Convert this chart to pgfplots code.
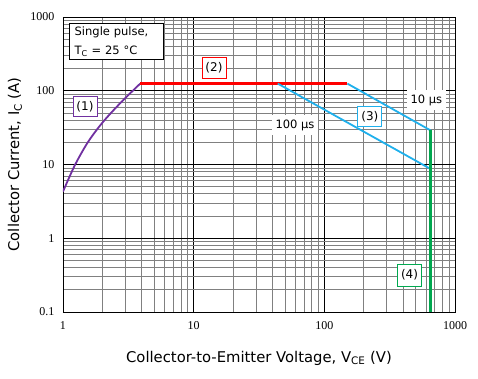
\documentclass[border=0pt]{standalone}
\usepackage{fontspec}
\setmainfont{DejaVu Sans}
\newfontfamily\tms{Liberation Serif}
\usepackage{pgfplots}
\pgfplotsset{compat=1.18}
\definecolor{cpurple}{HTML}{7030A0}
\definecolor{cred}{HTML}{FF0000}
\definecolor{ccyan}{HTML}{1FB0EC}
\definecolor{cgreen}{HTML}{00A84F}
\definecolor{cgrid}{HTML}{808080}
\begin{document}
\begin{tikzpicture}
\useasboundingbox (-63pt,-66pt) rectangle (415pt,312pt);
\begin{axis}[at={(0,0)}, anchor=south west, scale only axis,
  width=392pt, height=295pt,
  xmode=log, ymode=log, xmin=1, xmax=1000, ymin=0.1, ymax=1000,
  xtick={1,10,100,1000}, ytick={0.1,1,10,100,1000},
  xticklabels={1,10,100,1000}, yticklabels={0.1,1,10,100,1000},
  minor xtick={2,3,4,5,6,7,8,9,20,30,40,50,60,70,80,90,200,300,400,500,600,700,800,900},
  minor ytick={0.2,0.3,0.4,0.5,0.6,0.7,0.8,0.9,2,3,4,5,6,7,8,9,20,30,40,50,60,70,80,90,200,300,400,500,600,700,800,900},
  grid=both,
  major grid style={black, line width=0.9pt},
  minor grid style={cgrid, line width=0.75pt},
  axis line style={black, line width=0.9pt},
  major tick length=0pt, minor tick length=0pt,
  tick label style={font=\tms\fontsize{12}{14}\selectfont},
  xticklabel shift=6pt, yticklabel shift=5pt,
  label style={font=\fontsize{14.8}{16}\selectfont},
  xlabel={Collector-to-Emitter Voltage, V\textsubscript{CE} (V)},
  ylabel={Collector Current, I\textsubscript{C} (A)},
  xlabel style={at={(axis description cs:0.5,-0.156)}, anchor=center},
  ylabel style={at={(axis description cs:-0.1224,0.5)}, anchor=center},
]
\addplot[cpurple, line width=1.8pt, smooth] coordinates {
  (1,4.3) (1.235,9.85) (1.56,20.4) (2.03,38) (2.81,71) (3.9,125)};
\addplot[cred, line width=3pt] coordinates {(3.9,125) (150,125)};
\addplot[ccyan, line width=1.8pt] coordinates {(150,125) (650,29)};
\addplot[ccyan, line width=1.8pt] coordinates {(44,125) (650,8.7)};
\addplot[cgreen, line width=2.8pt] coordinates {(650,0.1) (650,29)};

\node[draw=cpurple, fill=white, line width=0.8pt, inner xsep=3.5pt, minimum height=20pt, font=\fontsize{12}{14}\selectfont] at (axis cs:1.473,60.8) {(1)};
\node[draw=cred, fill=white, line width=0.8pt, inner xsep=3.5pt, minimum height=21pt, font=\fontsize{12}{14}\selectfont] at (axis cs:14.3,204) {(2)};
\node[draw=ccyan, fill=white, line width=0.8pt, inner xsep=3.5pt, minimum height=20pt, font=\fontsize{12}{14}\selectfont] at (axis cs:223,44.5) {(3)};
\node[draw=cgreen, fill=white, line width=0.8pt, inner xsep=3.5pt, minimum height=22pt, font=\fontsize{12}{14}\selectfont] at (axis cs:449,0.318) {(4)};
\node[fill=white, inner xsep=4pt, minimum height=20pt, font=\fontsize{11.5}{13}\selectfont] at (axis cs:604,75) {10 µs};
\node[fill=white, inner xsep=4pt, minimum height=20pt, font=\fontsize{11.5}{13}\selectfont] at (axis cs:59.6,34.3) {100 µs};
\node[draw=black, fill=white, line width=0.8pt, anchor=north west, align=left, text width=84pt, inner xsep=5pt, inner ysep=3.5pt, font=\fontsize{11.5}{19}\selectfont] at (axis cs:1.117,837) {Single pulse,\\T\textsubscript{C} = 25 °C};
\end{axis}
\end{tikzpicture}
\end{document}
